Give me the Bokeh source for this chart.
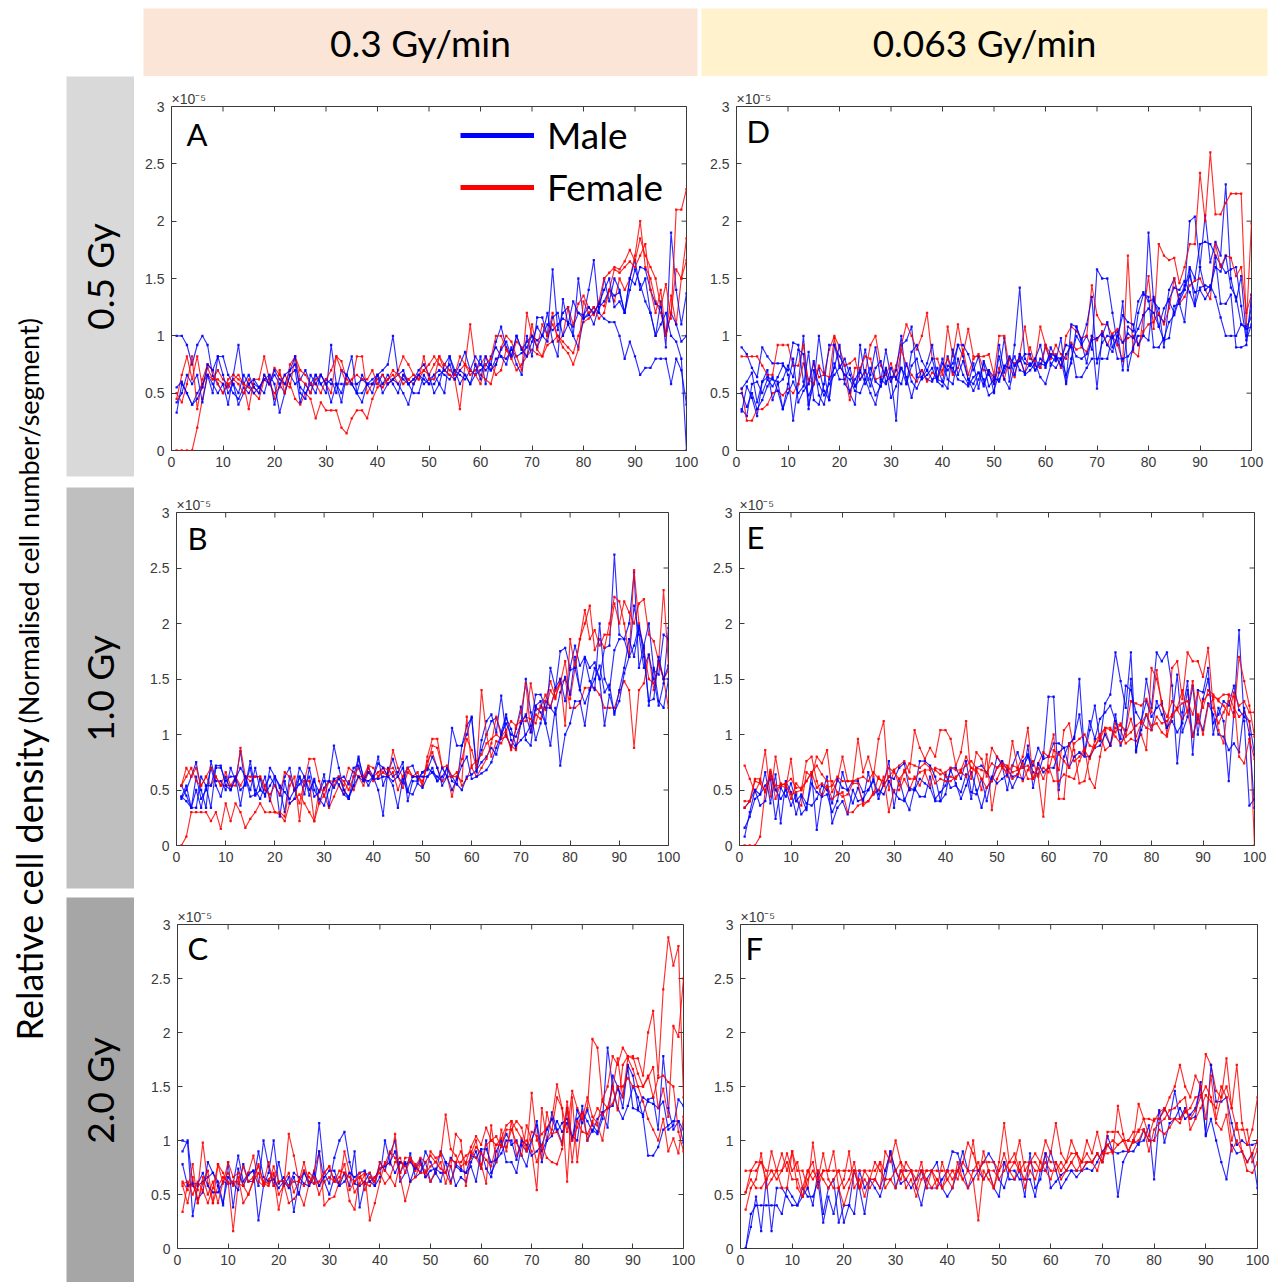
import math

from bokeh.core.properties import value
from bokeh.embed import file_html
from bokeh.layouts import column, row
from bokeh.models import (CustomJSTickFormatter, FixedTicker, Label, Legend,
                          LegendItem, Range1d)
from bokeh.plotting import figure
from bokeh.resources import INLINE

# ---------------------------------------------------------------------------
# Relative cell density per segment (units of 1e-7, i.e. 100 = 1.0 x 10^-5),
# segments 1..100 along the tissue, one list per animal.
# ---------------------------------------------------------------------------

# 0.3 Gy/min, 0.5 Gy
A_MALE_1 = [100, 100, 92, 75, 92, 100, 92, 65, 58, 50, 58, 50, 45, 55, 50, 58, 55, 62, 58, 66,
            58, 50, 66, 58, 62, 70, 58, 66, 58, 62, 58, 58, 58, 58, 58, 58, 62, 58, 58, 58,
            66, 58, 62, 66, 62, 58, 62, 66, 58, 62, 66, 70, 66, 62, 70, 66, 62, 70, 66, 70,
            75, 70, 80, 82, 80, 88, 82, 85, 90, 100, 96, 100, 110, 105, 110, 115, 112, 108, 120, 115,
            118, 125, 120, 115, 112, 112, 100, 80, 95, 82, 66, 72, 72, 80, 80, 80, 58, 80, 70, 40]
A_MALE_2 = [33, 58, 50, 40, 50, 58, 66, 50, 82, 82, 66, 58, 40, 50, 58, 50, 55, 62, 66, 58,
            33, 50, 66, 70, 42, 58, 50, 66, 58, 50, 92, 58, 42, 66, 58, 50, 42, 58, 50, 66,
            58, 66, 58, 50, 66, 58, 50, 50, 66, 58, 66, 58, 50, 82, 70, 58, 66, 58, 66, 82,
            58, 82, 90, 82, 75, 90, 75, 66, 100, 82, 116, 116, 100, 158, 105, 120, 125, 100, 150, 116,
            140, 166, 120, 150, 130, 150, 140, 120, 150, 166, 140, 150, 120, 100, 130, 90, 190, 140, 110, 137]
A_MALE_3 = [42, 50, 66, 58, 66, 42, 66, 58, 50, 58, 40, 66, 92, 58, 66, 55, 50, 66, 58, 70,
            62, 58, 70, 75, 55, 50, 58, 50, 66, 58, 62, 50, 70, 66, 82, 50, 50, 58, 62, 66,
            70, 75, 100, 66, 70, 58, 62, 70, 75, 66, 50, 58, 75, 82, 66, 75, 86, 70, 82, 75,
            70, 75, 95, 108, 90, 82, 100, 88, 95, 100, 90, 100, 120, 95, 82, 132, 110, 100, 90, 115,
            120, 110, 125, 130, 140, 135, 138, 120, 150, 145, 160, 158, 140, 128, 125, 100, 120, 110, 95, 100]
A_MALE_4 = [55, 60, 50, 40, 45, 55, 75, 70, 82, 66, 50, 58, 50, 66, 58, 62, 55, 50, 66, 40,
            58, 66, 70, 82, 50, 45, 66, 58, 66, 58, 42, 58, 50, 66, 58, 50, 66, 58, 58, 66,
            50, 58, 62, 58, 50, 40, 58, 66, 62, 58, 58, 66, 70, 75, 62, 70, 66, 58, 75, 62,
            82, 70, 75, 88, 95, 82, 100, 88, 82, 95, 108, 100, 95, 116, 120, 100, 110, 130, 120, 118,
            125, 120, 128, 140, 150, 125, 130, 120, 140, 158, 145, 130, 120, 100, 110, 120, 100, 95, 80, 0]
A_FEMALE_1 = [0, 0, 0, 0, 20, 45, 66, 62, 70, 62, 58, 62, 66, 58, 55, 50, 45, 62, 58, 50,
              55, 66, 58, 45, 40, 50, 45, 28, 42, 35, 35, 35, 20, 15, 28, 35, 35, 28, 45, 55,
              58, 62, 66, 58, 66, 62, 58, 66, 70, 66, 75, 82, 70, 66, 62, 36, 75, 66, 70, 75,
              82, 75, 66, 70, 88, 80, 70, 75, 82, 88, 84, 82, 92, 95, 100, 95, 90, 85, 100, 112,
              115, 120, 128, 126, 140, 130, 150, 140, 150, 170, 200, 160, 150, 130, 120, 100, 135, 110, 150, 185]
A_FEMALE_2 = [45, 66, 82, 62, 82, 55, 72, 62, 62, 58, 55, 62, 58, 50, 62, 55, 50, 66, 58, 72,
              66, 58, 55, 82, 62, 58, 50, 62, 66, 58, 50, 82, 78, 62, 58, 82, 82, 50, 58, 62,
              66, 58, 62, 70, 82, 75, 66, 62, 70, 75, 82, 75, 70, 66, 62, 70, 75, 110, 75, 66,
              62, 58, 75, 90, 100, 95, 82, 70, 120, 100, 90, 110, 100, 120, 95, 100, 125, 110, 128, 135,
              125, 118, 130, 150, 155, 160, 158, 165, 175, 165, 185, 170, 160, 150, 125, 145, 115, 210, 210, 228]
A_FEMALE_3 = [50, 42, 58, 82, 36, 62, 75, 70, 58, 50, 62, 66, 62, 58, 36, 62, 62, 82, 62, 45,
              70, 50, 75, 82, 70, 66, 58, 58, 50, 62, 70, 82, 70, 58, 62, 66, 62, 62, 70, 58,
              55, 62, 70, 66, 58, 62, 66, 62, 82, 62, 62, 82, 75, 70, 66, 82, 75, 70, 66, 58,
              75, 80, 100, 100, 88, 82, 95, 90, 82, 110, 88, 82, 100, 110, 100, 90, 85, 75, 88, 130,
              120, 125, 115, 120, 140, 158, 155, 160, 165, 160, 170, 180, 140, 120, 140, 100, 120, 158, 150, 166]

# 0.3 Gy/min, 1.0 Gy
B_MALE_1 = [44, 54, 34, 34, 62, 54, 34, 70, 70, 58, 62, 62, 50, 55, 70, 45, 50, 62, 40, 62,
            52, 30, 62, 50, 70, 62, 45, 60, 38, 52, 58, 90, 70, 50, 42, 62, 80, 60, 58, 62,
            50, 27, 70, 62, 66, 75, 40, 58, 58, 66, 70, 66, 62, 58, 70, 58, 55, 90, 100, 116,
            70, 86, 100, 112, 115, 102, 118, 95, 88, 110, 150, 120, 95, 110, 130, 125, 140, 175, 178, 160,
            180, 162, 170, 160, 165, 150, 178, 180, 262, 190, 186, 200, 246, 160, 180, 200, 158, 154, 190, 186]
B_MALE_2 = [42, 50, 62, 75, 50, 34, 76, 58, 58, 50, 70, 58, 85, 54, 76, 50, 42, 54, 62, 54,
            45, 62, 70, 50, 62, 54, 62, 44, 48, 64, 36, 60, 55, 46, 42, 54, 78, 62, 54, 62,
            80, 54, 66, 78, 62, 56, 70, 72, 60, 66, 68, 80, 70, 54, 62, 106, 90, 90, 108, 115,
            66, 95, 112, 118, 102, 135, 100, 88, 105, 125, 95, 90, 125, 120, 110, 90, 124, 72, 100, 110,
            130, 130, 108, 140, 160, 150, 108, 136, 120, 130, 155, 170, 216, 190, 160, 172, 150, 126, 146, 196]
B_MALE_3 = [54, 45, 34, 62, 42, 50, 70, 54, 44, 62, 50, 60, 70, 62, 44, 46, 60, 44, 70, 62,
            26, 58, 38, 42, 62, 46, 70, 50, 42, 36, 50, 60, 62, 50, 44, 54, 62, 58, 70, 62,
            74, 70, 62, 54, 34, 60, 48, 46, 56, 52, 62, 70, 58, 62, 70, 62, 55, 50, 62, 64,
            68, 75, 80, 88, 82, 98, 115, 105, 90, 95, 100, 108, 136, 136, 124, 124, 118, 138, 152, 136,
            170, 140, 128, 140, 150, 162, 138, 145, 118, 140, 160, 186, 170, 196, 178, 126, 160, 130, 124, 150]
B_MALE_4 = [44, 40, 34, 50, 34, 54, 54, 72, 72, 54, 50, 62, 36, 62, 50, 70, 50, 46, 54, 62,
            54, 48, 42, 50, 55, 62, 50, 58, 48, 58, 58, 52, 60, 62, 55, 70, 72, 58, 66, 60,
            60, 62, 62, 58, 62, 70, 50, 62, 62, 62, 62, 66, 58, 70, 62, 50, 60, 72, 80, 60,
            62, 65, 68, 75, 88, 100, 110, 100, 98, 110, 118, 102, 126, 130, 110, 160, 142, 150, 130, 158,
            160, 140, 168, 148, 140, 200, 150, 140, 176, 186, 186, 170, 180, 198, 170, 130, 132, 170, 150, 162]
B_FEMALE_1 = [0, 8, 30, 30, 30, 30, 22, 30, 15, 38, 22, 38, 30, 16, 24, 30, 38, 30, 30, 30,
              28, 22, 38, 42, 46, 38, 30, 22, 38, 46, 34, 44, 54, 46, 58, 50, 62, 54, 66, 62,
              66, 70, 62, 66, 50, 62, 70, 62, 66, 54, 76, 84, 70, 58, 62, 62, 66, 54, 60, 72,
              76, 82, 92, 96, 100, 96, 98, 90, 86, 112, 112, 146, 122, 124, 136, 124, 140, 146, 150, 124,
              124, 128, 142, 142, 142, 136, 124, 124, 124, 138, 148, 140, 88, 140, 146, 172, 140, 164, 150, 124]
B_FEMALE_2 = [54, 70, 62, 70, 54, 62, 54, 62, 54, 54, 54, 54, 88, 62, 62, 62, 62, 50, 46, 54,
              46, 66, 62, 50, 38, 58, 78, 78, 58, 44, 58, 58, 60, 54, 70, 66, 62, 62, 72, 70,
              62, 70, 68, 70, 62, 52, 66, 62, 62, 54, 80, 96, 96, 70, 62, 44, 62, 78, 96, 86,
              70, 140, 100, 80, 94, 92, 102, 86, 106, 120, 146, 102, 118, 114, 130, 148, 134, 146, 166, 132,
              160, 186, 200, 216, 176, 186, 178, 200, 224, 220, 200, 170, 248, 200, 176, 150, 146, 166, 230, 162]
B_FEMALE_3 = [54, 62, 70, 58, 54, 62, 70, 62, 54, 66, 54, 62, 54, 62, 58, 62, 62, 54, 42, 30,
              30, 26, 54, 62, 22, 58, 58, 22, 50, 50, 58, 54, 62, 58, 50, 62, 70, 58, 70, 58,
              62, 66, 62, 86, 70, 62, 70, 62, 62, 58, 72, 90, 88, 70, 72, 62, 62, 58, 116, 70,
              62, 70, 78, 92, 116, 98, 104, 112, 108, 112, 116, 114, 110, 126, 122, 140, 132, 150, 108, 186,
              160, 186, 212, 186, 194, 180, 190, 190, 218, 200, 220, 210, 200, 218, 222, 190, 184, 166, 150, 158]

# 0.3 Gy/min, 2.0 Gy
C_MALE_1 = [100, 98, 30, 58, 62, 66, 70, 62, 42, 66, 60, 86, 62, 70, 72, 26, 58, 70, 100, 60,
            66, 58, 70, 66, 60, 58, 66, 116, 70, 60, 84, 100, 108, 80, 60, 58, 62, 70, 58, 80,
            72, 88, 100, 62, 70, 88, 66, 70, 80, 62, 70, 62, 80, 76, 58, 66, 62, 80, 90, 74,
            100, 70, 80, 96, 106, 96, 100, 86, 76, 100, 114, 80, 100, 104, 118, 108, 116, 104, 100, 132,
            100, 110, 106, 120, 186, 150, 130, 120, 132, 150, 140, 122, 86, 86, 94, 110, 114, 118, 118, 98]
C_MALE_2 = [90, 100, 60, 46, 52, 80, 70, 58, 40, 80, 38, 74, 58, 68, 72, 58, 100, 76, 58, 80,
            58, 66, 34, 62, 70, 62, 60, 90, 62, 50, 66, 58, 70, 58, 90, 38, 60, 62, 58, 66,
            100, 80, 90, 70, 80, 62, 76, 70, 90, 80, 70, 90, 80, 62, 76, 72, 70, 76, 62, 90,
            74, 66, 90, 100, 80, 80, 70, 96, 90, 100, 118, 90, 100, 126, 110, 98, 130, 100, 120, 126,
            118, 108, 120, 126, 112, 160, 150, 130, 170, 160, 130, 140, 136, 134, 130, 136, 110, 114, 138, 132]
C_MALE_3 = [78, 58, 60, 60, 70, 58, 52, 52, 62, 60, 60, 54, 78, 62, 62, 90, 66, 62, 64, 56,
            62, 56, 66, 50, 72, 58, 70, 58, 66, 72, 72, 58, 62, 70, 66, 70, 72, 62, 66, 74,
            76, 80, 70, 80, 78, 80, 74, 82, 66, 72, 74, 70, 70, 84, 78, 74, 70, 86, 84, 92,
            92, 80, 82, 88, 100, 100, 82, 100, 96, 86, 90, 96, 110, 120, 108, 116, 120, 102, 128, 116,
            128, 114, 108, 126, 130, 132, 148, 140, 168, 130, 128, 124, 138, 140, 110, 178, 130, 110, 118, 110]
C_FEMALE_1 = [34, 60, 58, 54, 98, 60, 42, 58, 66, 62, 16, 60, 58, 50, 64, 78, 60, 58, 68, 36,
              60, 42, 46, 52, 40, 60, 72, 90, 40, 46, 48, 62, 70, 44, 36, 66, 70, 26, 42, 62,
              80, 78, 106, 66, 44, 62, 66, 78, 72, 62, 72, 80, 60, 76, 106, 100, 58, 88, 100, 78,
              60, 114, 80, 110, 90, 118, 86, 98, 100, 90, 54, 130, 100, 110, 140, 130, 62, 140, 80, 120,
              130, 194, 186, 136, 130, 150, 128, 170, 178, 176, 176, 160, 200, 220, 160, 240, 288, 262, 280, 140]
C_FEMALE_2 = [62, 54, 78, 42, 60, 72, 42, 78, 60, 80, 66, 70, 58, 70, 86, 62, 58, 64, 70, 50,
              58, 106, 86, 62, 58, 70, 66, 58, 70, 76, 62, 60, 90, 70, 52, 60, 68, 70, 62, 80,
              72, 66, 58, 80, 76, 84, 72, 80, 66, 90, 84, 86, 124, 92, 86, 76, 80, 94, 104, 96,
              112, 100, 96, 102, 114, 118, 110, 102, 90, 144, 100, 106, 112, 120, 152, 130, 108, 146, 130, 120,
              140, 122, 116, 138, 150, 178, 170, 186, 178, 178, 162, 150, 158, 168, 130, 148, 122, 206, 196, 250]
C_FEMALE_3 = [58, 42, 66, 42, 66, 50, 62, 42, 62, 70, 58, 66, 42, 50, 62, 70, 60, 80, 58, 62,
              62, 70, 52, 62, 80, 60, 66, 50, 62, 66, 62, 72, 70, 66, 62, 70, 54, 66, 62, 74,
              78, 90, 84, 70, 84, 84, 78, 70, 70, 76, 80, 74, 70, 60, 80, 90, 78, 84, 94, 88,
              82, 76, 96, 96, 110, 110, 118, 112, 92, 108, 104, 84, 126, 106, 108, 96, 136, 100, 112, 126,
              100, 118, 130, 124, 130, 148, 176, 140, 176, 166, 150, 136, 120, 110, 100, 120, 90, 102, 88, 122]
C_FEMALE_4 = [60, 62, 50, 62, 54, 42, 56, 78, 70, 60, 62, 62, 76, 62, 66, 76, 62, 60, 76, 62,
              62, 58, 62, 62, 72, 66, 60, 62, 70, 76, 62, 66, 78, 54, 62, 66, 60, 58, 66, 70,
              60, 66, 80, 84, 70, 82, 76, 84, 80, 86, 80, 88, 70, 82, 80, 80, 86, 90, 84, 74,
              96, 100, 104, 94, 94, 110, 98, 86, 114, 100, 80, 96, 84, 80, 78, 92, 130, 80, 118, 108,
              106, 116, 114, 100, 130, 134, 150, 150, 158, 150, 150, 150, 160, 140, 158, 160, 154, 150, 108, 90]

# 0.063 Gy/min, 0.5 Gy
D_MALE_1 = [90, 84, 72, 64, 90, 82, 76, 76, 76, 66, 26, 58, 100, 40, 58, 100, 68, 44, 92, 82,
            74, 50, 40, 92, 62, 50, 40, 60, 88, 64, 26, 92, 96, 108, 66, 70, 62, 60, 72, 60,
            82, 68, 92, 82, 62, 58, 68, 62, 48, 52, 68, 98, 60, 92, 142, 80, 74, 80, 72, 92,
            76, 72, 80, 58, 80, 100, 92, 100, 88, 158, 150, 150, 120, 92, 130, 70, 90, 100, 100, 190,
            130, 124, 90, 130, 120, 136, 140, 200, 204, 160, 205, 164, 182, 170, 232, 150, 130, 152, 100, 126]
D_MALE_2 = [36, 30, 58, 60, 50, 62, 56, 64, 74, 70, 94, 92, 60, 48, 58, 72, 52, 44, 76, 62,
            62, 72, 56, 68, 88, 62, 48, 56, 72, 60, 70, 100, 58, 86, 92, 78, 70, 80, 62, 76,
            70, 76, 92, 92, 84, 70, 82, 58, 70, 50, 92, 68, 80, 66, 84, 76, 74, 80, 92, 72,
            90, 80, 80, 66, 76, 108, 96, 110, 134, 76, 94, 100, 98, 104, 70, 108, 104, 130, 138, 130,
            132, 118, 112, 140, 150, 130, 140, 160, 150, 180, 182, 180, 170, 162, 155, 158, 160, 126, 96, 110]
D_MALE_3 = [50, 38, 50, 36, 44, 56, 64, 52, 36, 58, 80, 42, 52, 58, 78, 48, 40, 62, 72, 92,
            58, 52, 62, 70, 58, 66, 90, 62, 58, 72, 62, 58, 76, 60, 54, 64, 70, 62, 64, 80,
            62, 58, 80, 66, 58, 76, 54, 78, 66, 58, 82, 62, 54, 74, 82, 66, 70, 76, 64, 58,
            74, 82, 80, 92, 90, 64, 64, 72, 80, 80, 80, 80, 100, 80, 80, 82, 88, 120, 136, 134,
            90, 90, 98, 112, 118, 132, 144, 152, 138, 140, 132, 140, 168, 128, 128, 136, 90, 90, 92, 136]
D_MALE_4 = [34, 56, 46, 30, 60, 64, 62, 60, 36, 50, 60, 50, 56, 86, 44, 40, 58, 92, 92, 74,
            66, 62, 52, 50, 62, 72, 60, 56, 70, 46, 56, 72, 64, 46, 64, 64, 76, 92, 62, 60,
            54, 88, 66, 78, 62, 52, 62, 76, 56, 62, 62, 72, 82, 74, 78, 84, 84, 70, 76, 74,
            82, 78, 98, 60, 110, 108, 94, 76, 100, 54, 100, 112, 90, 100, 118, 112, 110, 92, 100, 96,
            134, 108, 96, 98, 126, 128, 112, 158, 128, 160, 140, 144, 134, 116, 100, 100, 100, 110, 106, 108]
D_MALE_5 = [54, 60, 68, 42, 60, 70, 44, 58, 62, 74, 64, 88, 84, 36, 70, 58, 48, 58, 66, 72,
            80, 66, 56, 62, 70, 56, 72, 78, 60, 64, 64, 72, 58, 74, 80, 62, 66, 72, 60, 56,
            74, 72, 62, 60, 56, 64, 68, 56, 70, 64, 60, 74, 72, 82, 70, 68, 76, 70, 80, 76,
            84, 82, 74, 84, 92, 82, 80, 84, 96, 98, 102, 92, 86, 100, 94, 102, 98, 106, 118, 124,
            120, 108, 124, 132, 142, 140, 148, 138, 126, 142, 144, 142, 160, 156, 170, 142, 134, 110, 108, 116]
D_FEMALE_1 = [82, 82, 82, 82, 74, 66, 66, 92, 92, 92, 74, 74, 92, 58, 76, 64, 66, 88, 100, 90,
              74, 76, 80, 62, 68, 92, 100, 74, 66, 60, 74, 92, 110, 100, 88, 100, 120, 80, 80, 66,
              108, 82, 110, 84, 106, 82, 82, 82, 84, 66, 100, 100, 72, 64, 84, 108, 80, 78, 108, 92,
              84, 84, 72, 100, 108, 104, 98, 100, 144, 118, 110, 110, 100, 92, 78, 170, 86, 82, 118, 152,
              106, 180, 170, 166, 168, 146, 160, 180, 180, 242, 200, 260, 206, 206, 216, 224, 224, 224, 110, 198]
D_FEMALE_2 = [54, 26, 26, 36, 36, 40, 50, 52, 48, 54, 50, 58, 76, 62, 58, 74, 66, 64, 98, 74,
              66, 44, 72, 72, 82, 80, 62, 64, 66, 76, 62, 88, 74, 66, 60, 70, 60, 68, 64, 70,
              80, 66, 72, 88, 66, 80, 84, 70, 70, 60, 72, 62, 80, 76, 80, 68, 90, 74, 72, 90,
              80, 92, 84, 80, 94, 88, 90, 86, 100, 96, 104, 92, 102, 106, 94, 98, 100, 92, 104, 110,
              112, 120, 110, 124, 150, 128, 134, 144, 148, 150, 140, 132, 180, 160, 170, 168, 152, 160, 120, 136]

# 0.063 Gy/min, 1.0 Gy
E_MALE_1 = [8, 30, 50, 46, 66, 38, 64, 20, 58, 48, 28, 44, 32, 64, 14, 46, 62, 20, 34, 40,
            28, 50, 40, 42, 50, 58, 42, 56, 76, 34, 60, 42, 32, 52, 44, 44, 62, 42, 48, 54,
            68, 56, 42, 54, 66, 50, 34, 52, 60, 80, 72, 50, 72, 84, 70, 80, 66, 64, 80, 134,
            134, 50, 80, 92, 96, 150, 82, 104, 126, 94, 128, 136, 174, 148, 124, 174, 84, 110, 150, 124,
            174, 166, 174, 144, 74, 120, 148, 82, 140, 138, 160, 100, 124, 112, 58, 120, 194, 112, 36, 42]
E_MALE_2 = [16, 26, 42, 46, 54, 60, 24, 52, 44, 56, 40, 46, 38, 36, 42, 54, 50, 38, 60, 52,
            50, 38, 52, 40, 66, 46, 50, 46, 58, 48, 42, 40, 52, 50, 60, 56, 52, 40, 40, 64,
            52, 54, 48, 64, 42, 70, 72, 66, 58, 70, 76, 68, 62, 64, 76, 82, 72, 88, 78, 80,
            92, 92, 88, 90, 98, 118, 84, 112, 96, 114, 120, 126, 112, 96, 144, 140, 120, 112, 130, 116,
            124, 128, 106, 116, 154, 102, 116, 144, 100, 132, 150, 110, 118, 130, 126, 144, 122, 116, 112, 82]
E_MALE_3 = [34, 40, 50, 36, 40, 66, 50, 42, 50, 36, 46, 28, 34, 56, 48, 44, 46, 30, 40, 66,
            50, 58, 58, 48, 50, 60, 46, 54, 62, 60, 70, 74, 50, 50, 76, 76, 72, 62, 40, 46,
            70, 70, 60, 76, 48, 46, 60, 40, 62, 56, 60, 64, 52, 62, 60, 90, 52, 74, 66, 70,
            70, 84, 88, 70, 80, 84, 80, 80, 88, 90, 100, 90, 118, 90, 104, 150, 86, 104, 118, 104,
            130, 118, 106, 112, 102, 110, 140, 98, 116, 104, 128, 118, 100, 98, 86, 92, 84, 124, 100, 34]
E_FEMALE_1 = [72, 60, 48, 58, 86, 44, 80, 54, 52, 78, 40, 36, 66, 62, 80, 74, 86, 48, 58, 80,
              58, 58, 96, 66, 80, 62, 96, 112, 50, 68, 72, 76, 66, 104, 88, 78, 88, 80, 104, 104,
              96, 72, 84, 112, 60, 84, 78, 62, 88, 80, 74, 62, 94, 70, 80, 106, 60, 74, 84, 80,
              80, 68, 104, 110, 86, 56, 58, 80, 94, 100, 86, 90, 106, 104, 92, 96, 94, 100, 86, 160,
              150, 130, 100, 160, 166, 132, 174, 166, 166, 152, 178, 124, 110, 120, 130, 116, 170, 148, 126, 98]
E_FEMALE_2 = [0, 0, 0, 8, 50, 62, 50, 54, 56, 42, 56, 50, 76, 80, 58, 44, 54, 42, 46, 48,
              30, 30, 36, 38, 40, 48, 50, 62, 30, 50, 50, 60, 50, 62, 54, 66, 54, 70, 68, 62,
              62, 60, 68, 80, 70, 66, 50, 82, 32, 60, 70, 66, 72, 70, 58, 68, 76, 62, 26, 80,
              100, 42, 42, 92, 76, 80, 88, 60, 52, 80, 104, 90, 110, 108, 104, 130, 128, 126, 132, 120,
              158, 126, 116, 130, 122, 114, 122, 148, 110, 130, 136, 134, 132, 136, 136, 124, 116, 120, 112, 0]
E_FEMALE_3 = [34, 40, 60, 60, 48, 66, 42, 56, 54, 46, 48, 50, 58, 66, 72, 64, 58, 58, 48, 44,
              46, 56, 56, 36, 40, 46, 62, 54, 62, 68, 54, 68, 60, 60, 66, 68, 68, 56, 60, 58,
              58, 62, 66, 62, 70, 68, 60, 52, 58, 70, 72, 70, 60, 64, 74, 60, 60, 70, 60, 72,
              58, 58, 64, 62, 60, 76, 86, 78, 90, 96, 106, 104, 102, 110, 100, 114, 98, 110, 118, 108,
              110, 102, 98, 116, 124, 140, 120, 98, 118, 100, 126, 132, 104, 92, 136, 134, 80, 74, 96, 78]
E_FEMALE_4 = [40, 40, 58, 56, 48, 68, 54, 54, 56, 60, 52, 52, 58, 66, 52, 56, 52, 54, 62, 58,
              58, 58, 60, 62, 58, 66, 60, 58, 70, 66, 60, 66, 74, 72, 70, 74, 70, 68, 64, 66,
              70, 68, 68, 72, 76, 70, 68, 66, 74, 70, 74, 72, 66, 68, 70, 72, 60, 64, 70, 66,
              86, 82, 76, 70, 92, 96, 100, 90, 88, 100, 106, 106, 98, 92, 98, 102, 108, 112, 106, 104,
              116, 110, 112, 118, 124, 128, 130, 118, 138, 124, 140, 136, 130, 126, 118, 138, 126, 130, 120, 120]

# 0.063 Gy/min, 2.0 Gy
F_MALE_1 = [0, 32, 40, 40, 40, 40, 40, 32, 56, 48, 40, 56, 48, 48, 62, 24, 48, 32, 56, 24,
            40, 32, 72, 56, 64, 56, 48, 64, 90, 56, 72, 72, 72, 56, 40, 64, 72, 80, 56, 48,
            56, 72, 90, 72, 72, 72, 80, 88, 80, 64, 56, 72, 72, 64, 64, 64, 48, 72, 72, 90,
            72, 56, 64, 72, 72, 72, 80, 80, 88, 80, 104, 90, 48, 80, 90, 90, 98, 100, 114, 64,
            120, 130, 120, 146, 120, 130, 120, 122, 154, 104, 120, 100, 80, 64, 96, 88, 90, 80, 88, 56]
F_MALE_2 = [0, 20, 48, 16, 64, 16, 56, 56, 48, 40, 40, 48, 56, 40, 72, 32, 56, 64, 24, 40,
            40, 72, 56, 32, 64, 64, 56, 72, 90, 72, 60, 64, 56, 64, 72, 56, 56, 56, 64, 72,
            90, 88, 72, 56, 64, 72, 64, 72, 56, 48, 80, 64, 64, 72, 48, 88, 56, 64, 88, 56,
            62, 68, 72, 72, 66, 72, 74, 72, 80, 90, 96, 90, 88, 90, 90, 100, 96, 110, 100, 100,
            128, 98, 116, 120, 130, 120, 124, 130, 150, 106, 170, 136, 136, 140, 116, 96, 100, 96, 96, 98]
F_FEMALE_1 = [72, 72, 72, 80, 72, 72, 72, 88, 72, 90, 72, 72, 56, 98, 64, 72, 72, 72, 72, 72,
              72, 72, 72, 72, 72, 72, 80, 72, 88, 72, 80, 72, 72, 72, 72, 72, 72, 72, 72, 72,
              72, 72, 80, 98, 88, 72, 80, 80, 80, 72, 80, 72, 80, 72, 80, 80, 80, 72, 88, 80,
              80, 72, 80, 88, 88, 80, 80, 80, 88, 80, 108, 108, 108, 100, 100, 108, 108, 120, 120, 118,
              126, 130, 120, 120, 120, 126, 130, 140, 142, 180, 170, 146, 140, 176, 130, 110, 110, 110, 80, 92]
F_FEMALE_2 = [52, 72, 80, 80, 64, 90, 72, 56, 56, 90, 56, 48, 72, 80, 56, 72, 72, 90, 56, 64,
              90, 56, 64, 48, 64, 64, 56, 90, 80, 100, 80, 56, 64, 48, 64, 72, 72, 56, 80, 64,
              72, 64, 80, 72, 100, 64, 90, 72, 56, 80, 116, 80, 80, 100, 72, 80, 88, 80, 100, 88,
              116, 88, 80, 100, 88, 80, 100, 88, 108, 88, 96, 88, 132, 106, 90, 100, 134, 120, 104, 120,
              120, 128, 140, 150, 170, 150, 140, 160, 150, 120, 160, 120, 140, 150, 130, 170, 116, 96, 110, 140]
F_FEMALE_3 = [36, 56, 64, 88, 56, 64, 72, 72, 80, 64, 64, 48, 64, 72, 64, 88, 64, 56, 56, 40,
              56, 72, 56, 64, 56, 64, 80, 56, 64, 56, 72, 64, 72, 56, 72, 64, 56, 64, 56, 64,
              56, 80, 64, 72, 64, 26, 72, 64, 56, 72, 88, 72, 64, 80, 56, 72, 64, 80, 72, 64,
              80, 64, 72, 80, 72, 80, 88, 80, 72, 88, 88, 90, 96, 100, 100, 98, 100, 110, 90, 110,
              116, 120, 128, 130, 136, 140, 110, 120, 130, 142, 136, 130, 150, 140, 100, 116, 90, 72, 70, 80]
F_FEMALE_4 = [52, 64, 56, 56, 64, 72, 64, 72, 88, 72, 80, 56, 72, 64, 72, 64, 56, 64, 72, 56,
              64, 80, 56, 72, 64, 80, 72, 64, 64, 72, 64, 80, 72, 64, 80, 56, 72, 64, 56, 72,
              64, 72, 64, 56, 72, 80, 64, 72, 72, 64, 72, 80, 88, 72, 64, 80, 72, 72, 80, 72,
              72, 80, 72, 80, 88, 72, 80, 80, 88, 80, 96, 100, 96, 100, 90, 100, 110, 110, 100, 100,
              110, 106, 112, 120, 116, 128, 120, 128, 140, 150, 140, 116, 110, 124, 90, 100, 90, 80, 88, 100]

DOSE_RATES = ["0.3 Gy/min", "0.063 Gy/min"]
DOSES = ["0.5 Gy", "1.0 Gy", "2.0 Gy"]
Y_TICKS = [0, 0.5, 1, 1.5, 2, 2.5, 3]
X_TICKS = [0, 10, 20, 30, 40, 50, 60, 70, 80, 90, 100]

MALE_COLOR = "#0000ff"
FEMALE_COLOR = "#ff0000"
TEXT_FONT = "Lato"
AXIS_FONT = "Liberation Sans"
AXIS_COLOR = "#3a3a3a"
SCALE = 100.0  # list units per 1e-5


def bare_canvas(width, height):
    c = figure(width=width, height=height, output_backend="svg", toolbar_location=None,
               x_range=Range1d(0, width), y_range=Range1d(0, height),
               x_axis_location=None, y_axis_location=None, tools="",
               min_border=0)
    c.xgrid.visible = False
    c.ygrid.visible = False
    c.outline_line_color = None
    return c


def style_axis(axis):
    axis.axis_line_color = None
    axis.major_tick_in = 5
    axis.major_tick_out = 0
    axis.minor_tick_line_color = None
    axis.major_tick_line_color = AXIS_COLOR
    axis.major_label_text_font = AXIS_FONT
    axis.major_label_text_font_size = "14px"
    axis.major_label_text_color = AXIS_COLOR


def panel(letter, males, females, width, height, borders, letter_offset, with_legend=False):
    left, right, top, bottom = borders
    p = figure(width=width, height=height, output_backend="svg", toolbar_location=None,
               x_range=Range1d(0, 100), y_range=Range1d(0, 3), tools="",
               min_border_left=left, min_border_right=right,
               min_border_top=top, min_border_bottom=bottom)
    p.xgrid.visible = False
    p.ygrid.visible = False
    p.outline_line_color = AXIS_COLOR
    p.outline_line_width = 1

    # axis exponent sits above the top-left corner of the box
    p.title.text = "×10⁻⁵"
    p.title.align = "left"
    p.title.text_font = AXIS_FONT
    p.title.text_font_size = "14px"
    p.title.text_font_style = "normal"
    p.title.text_color = AXIS_COLOR
    p.title.standoff = 0

    p.xaxis.ticker = FixedTicker(ticks=X_TICKS)
    p.yaxis.ticker = FixedTicker(ticks=Y_TICKS)
    p.yaxis.formatter = CustomJSTickFormatter(code="return String(Math.round(tick * 10) / 10)")
    style_axis(p.xaxis[0])
    style_axis(p.yaxis[0])
    p.xaxis.major_label_standoff = 6
    p.yaxis.major_label_standoff = 7

    # tick marks along the top and right edges of the box
    p.scatter(X_TICKS, [3] * len(X_TICKS), marker="dash", angle=math.pi / 2, size=10,
              line_color=AXIS_COLOR, line_width=1)
    p.scatter([100] * len(Y_TICKS), Y_TICKS, marker="dash", size=10,
              line_color=AXIS_COLOR, line_width=1)

    # interleave animals so neither sex sits entirely on top
    ordered = []
    for i in range(max(len(males), len(females))):
        if i < len(males):
            ordered.append((males[i], MALE_COLOR))
        if i < len(females):
            ordered.append((females[i], FEMALE_COLOR))
    for ys, color in ordered:
        xs = list(range(1, len(ys) + 1))
        yv = [v / SCALE for v in ys]
        p.line(xs, yv, line_color=color, line_width=1.15, line_alpha=0.82)
        p.scatter(xs, yv, marker="square", size=2.3, fill_color=color, line_color=None,
                  fill_alpha=0.9)

    ox, oy = letter_offset
    p.add_layout(Label(x=0, y=3, x_offset=ox, y_offset=-oy, text=letter,
                       text_baseline="middle", text_font=TEXT_FONT,
                       text_font_size="31px", text_color="black"))

    if with_legend:
        nan = float("nan")
        male_key = p.line(x=[nan], y=[nan], line_color=MALE_COLOR, line_width=5)
        female_key = p.line(x=[nan], y=[nan], line_color=FEMALE_COLOR, line_width=5)
        legend = Legend(items=[LegendItem(label="Male", renderers=[male_key]),
                               LegendItem(label="Female", renderers=[female_key])],
                        location=(289, 241), padding=0, margin=0, spacing=7,
                        glyph_width=74, glyph_height=40, label_height=40,
                        label_standoff=13, label_text_font=TEXT_FONT,
                        label_text_font_size="37px", label_text_color="black",
                        background_fill_alpha=0, border_line_color=None)
        p.add_layout(legend, "center")
    return p


# --- left strip: overall y label and dose boxes -----------------------------
side = bare_canvas(134, 1282)
side.quad(left=[66, 66, 66], right=[134, 134, 134], bottom=[806, 394, 0],
          top=[1206, 795, 385], fill_color=["#d9d9d9", "#bfbfbf", "#a6a6a6"], line_color=None)
side.text(x=[99, 99, 99], y=[1006, 594, 192], text=DOSES, angle=math.pi / 2,
          text_font=value(TEXT_FONT), text_font_size="37px", text_color="black",
          text_align="center", text_baseline="alphabetic")
side.text(x=[28], y=[242], text=["Relative cell density"], angle=math.pi / 2,
          text_font=value(TEXT_FONT), text_font_size="36px", text_color="black",
          text_align="left", text_baseline="alphabetic")
side.text(x=[28], y=[559], text=["(Normalised cell number/segment)"], angle=math.pi / 2,
          text_font=value(TEXT_FONT), text_font_size="27px", text_color="black",
          text_align="left", text_baseline="alphabetic")

# --- header: dose-rate boxes ------------------------------------------------
header = bare_canvas(1149, 76)
header.quad(left=[9, 567], right=[563, 1133], bottom=[0, 0], top=[68, 68],
            fill_color=["#fbe5d6", "#fff2cc"], line_color=None)
header.text(x=[286, 850], y=[34, 34], text=DOSE_RATES, text_font=value(TEXT_FONT),
            text_font_size="37px", text_color="black", text_align="center",
            text_baseline="middle")

pA = panel("A", [A_MALE_1, A_MALE_2, A_MALE_3, A_MALE_4], [A_FEMALE_1, A_FEMALE_2, A_FEMALE_3],
           566, 406, (37, 14, 30, 30), (15, 27), with_legend=True)
pD = panel("D", [D_MALE_1, D_MALE_2, D_MALE_3, D_MALE_4, D_MALE_5], [D_FEMALE_1, D_FEMALE_2],
           583, 406, (36, 32, 30, 32), (10, 24))
pB = panel("B", [B_MALE_1, B_MALE_2, B_MALE_3, B_MALE_4], [B_FEMALE_1, B_FEMALE_2, B_FEMALE_3],
           566, 411, (42, 32, 30, 48), (11, 25))
pE = panel("E", [E_MALE_1, E_MALE_2, E_MALE_3], [E_FEMALE_1, E_FEMALE_2, E_FEMALE_3, E_FEMALE_4],
           583, 411, (39, 29, 26, 27), (7, 24))
pC = panel("C", [C_MALE_1, C_MALE_2, C_MALE_3], [C_FEMALE_1, C_FEMALE_2, C_FEMALE_3, C_FEMALE_4],
           566, 389, (43, 17, 29, 23), (10, 23))
pF = panel("F", [F_MALE_1, F_MALE_2], [F_FEMALE_1, F_FEMALE_2, F_FEMALE_3, F_FEMALE_4],
           583, 389, (40, 26, 31, 34), (5, 23))

layout = row(side, column(header, row(pA, pD), row(pB, pE), row(pC, pF)))

with open("out.html", "w") as fh:
    fh.write(file_html(layout, INLINE))
